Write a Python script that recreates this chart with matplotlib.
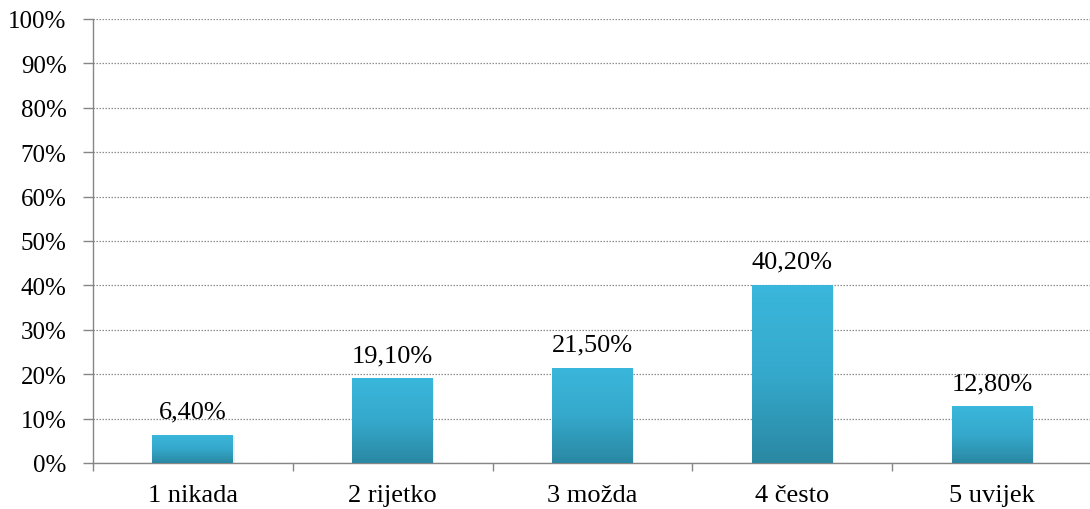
import numpy as np
import matplotlib.pyplot as plt
from matplotlib.colors import LinearSegmentedColormap

categories = ['1 nikada', '2 rijetko', '3 možda', '4 često', '5 uvijek']
values = [6.4, 19.1, 21.5, 40.2, 12.8]
labels = ['6,40%', '19,10%', '21,50%', '40,20%', '12,80%']

plt.rcParams['font.family'] = ['Liberation Serif', 'DejaVu Serif']
FS = 18

fig = plt.figure(figsize=(10.9, 5.1), dpi=100)
ax = fig.add_axes([93/1090, 46/510, 999/1090, 444/510])

x = np.arange(len(categories))
bars = ax.bar(x, values, width=0.405, color='none', zorder=3)

cmap = LinearSegmentedColormap.from_list('bar', ['#2a88a3', '#35a9cc', '#3ab7dc'])
grad = np.linspace(0, 1, 256).reshape(-1, 1)
for b in bars:
    x0, y0 = b.get_x(), b.get_y()
    w, h = b.get_width(), b.get_height()
    # soft shadow
    ax.bar(x0 + w/2 + 0.006, h, width=w, bottom=-0.3, color='#000000', alpha=0.07, zorder=2)
    im = ax.imshow(grad, extent=[x0, x0 + w, y0, y0 + h], origin='lower',
                   aspect='auto', cmap=cmap, zorder=3)
    im.set_clip_path(b)

for xi, v, lab in zip(x, values, labels):
    ax.text(xi, v + 3.8, lab, ha='center', va='baseline', fontsize=19, color='black', zorder=4)

ax.set_xlim(-0.5, len(categories) - 0.5)
ax.set_ylim(0, 100)
ax.set_yticks(np.arange(0, 101, 10))
ax.set_yticklabels([f'{t}%' for t in range(0, 101, 10)], fontsize=FS)
ax.set_xticks(x)
ax.set_xticklabels(categories, fontsize=19)
ax.set_xticks(np.arange(-0.5, len(categories), 1), minor=True)
ax.tick_params(axis='x', which='major', length=0, pad=15)
ax.tick_params(axis='x', which='minor', length=6, color='#868686', width=1)
ax.tick_params(axis='y', length=7, color='#868686', width=1, pad=12)

ax.grid(axis='y', linestyle=(0, (1.2, 1.2)), color='#8c8c8c', linewidth=0.9, zorder=0)
ax.set_axisbelow(True)
for s in ['top', 'right']:
    ax.spines[s].set_visible(False)
for s in ['left', 'bottom']:
    ax.spines[s].set_color('#868686')
    ax.spines[s].set_linewidth(1)

fig.savefig('out.png', dpi=100)
